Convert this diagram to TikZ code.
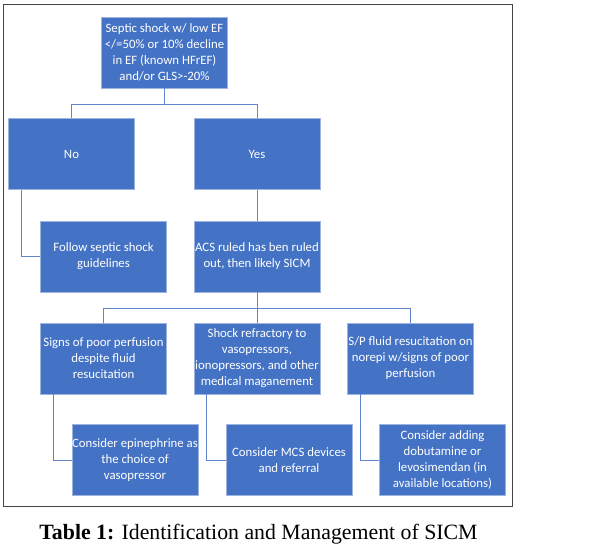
\documentclass[tikz,border=0pt]{standalone}
\usepackage{fontspec}
\setmainfont{Carlito}
\newfontfamily\capfont{Liberation Serif}
\usepackage{tikz}
\definecolor{boxblue}{HTML}{4472C4}
\definecolor{boxline}{HTML}{9DB4E0}
\definecolor{frameg}{HTML}{454545}

\begin{document}
\begin{tikzpicture}[x=1pt,y=-1pt,
  blk/.style={draw=boxline,line width=0.6pt,fill=boxblue,text=white,align=center,inner sep=0pt,
    minimum width=126pt,minimum height=71pt,font=\fontsize{12.8}{16}\selectfont},
  link/.style={draw=boxblue!85!white,line width=0.7pt}]
\useasboundingbox (0,0) rectangle (590,551);
\draw[frameg,line width=1pt] (3,5) rectangle (512,506);
\node[blk] (top) at (164.5,52.5) {Septic shock w/ low EF\\ </=50\% or 10\% decline\\ in EF (known HFrEF)\\ and/or GLS>-20\%};
\node[blk] (no) at (71.5,154) {No};
\node[blk] (yes) at (257,154) {Yes};
\node[blk] (follow) at (103.5,256.5) {Follow septic shock\\ guidelines};
\node[blk] (acs) at (257,256.5) {ACS ruled has ben ruled\\ out, then likely SICM};
\node[blk] (pa) at (103.5,358.5) {Signs of poor perfusion\\ despite fluid\\ resucitation};
\node[blk] (pb) at (257,358.5) {Shock refractory to\\ vasopressors,\\ ionopressors, and other\\ medical maganement};
\node[blk] (pc) at (410.5,358.5) {S/P fluid resucitation on\\ norepi w/signs of poor\\ perfusion};
\node[blk] (ca) at (135,460) {Consider epinephrine as\\ the choice of\\ vasopressor};
\node[blk] (cb) at (289,460) {Consider MCS devices\\ and referral};
\node[blk] (cc) at (442.5,460) {Consider adding\\ dobutamine or\\ levosimendan (in\\ available locations)};
\draw[link] (top.south) -- ++(0,16) coordinate (j1) -| (no.north);
\draw[link] (j1) -| (yes.north);
\draw[link] ([xshift=13pt]no.south west) |- (follow.west);
\draw[link] (yes) -- (acs);
\draw[link] (acs.south) -- ++(0,16) coordinate (j2) -| (pa.north);
\draw[link] (j2) -| (pc.north);
\draw[link] (j2) -- (pb.north);
\foreach \a/\b in {pa/ca,pb/cb,pc/cc}
  \draw[link] ([xshift=13pt]\a.south west) |- (\b.west);
\node (cap) at (258.5,534) {\capfont\fontsize{21.8}{26}\selectfont\textbf{Table 1:} Identification and Management of SICM};
\end{tikzpicture}
\end{document}
